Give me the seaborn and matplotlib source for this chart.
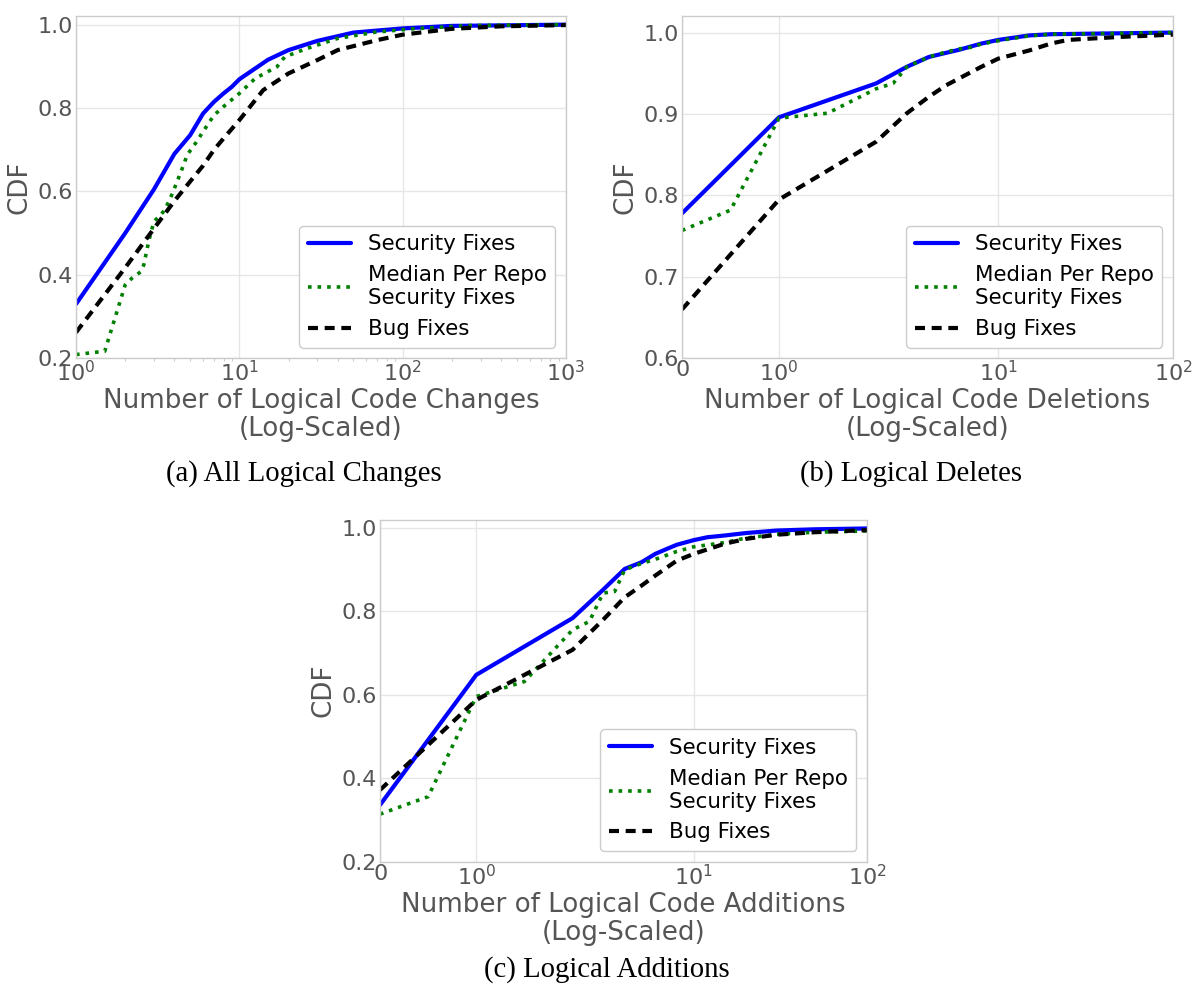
import matplotlib
matplotlib.use("Agg")
import matplotlib.pyplot as plt
import seaborn as sns
from matplotlib.ticker import NullLocator

# (a) all logical changes - CDF values
chg_sec_x = [1, 2, 3, 4, 5, 6, 7, 8, 9, 10, 15, 20, 30, 50, 100, 200, 1000]
chg_sec_y = [0.330, 0.500, 0.605, 0.690, 0.735, 0.787, 0.815, 0.835, 0.851, 0.869,
             0.916, 0.939, 0.961, 0.981, 0.991, 0.997, 1.0]
chg_med_x = [1, 1.5, 2, 2.2, 2.5, 2.6, 2.8, 3, 3.3, 3.5, 3.9, 4.4, 4.8, 5.4, 6.1, 7,
             8.2, 10, 12.5, 17, 19, 26, 40, 68, 116, 258, 1000]
chg_med_y = [0.209, 0.217, 0.376, 0.392, 0.408, 0.424, 0.484, 0.528, 0.544, 0.556,
             0.596, 0.648, 0.688, 0.716, 0.748, 0.783, 0.807, 0.835, 0.871, 0.899,
             0.923, 0.943, 0.967, 0.982, 0.990, 0.998, 1.0]
chg_bug_x = [1, 2, 3, 4, 5, 6, 7, 8, 10, 14, 20, 30, 40, 70, 100, 200, 400, 1000]
chg_bug_y = [0.262, 0.417, 0.511, 0.577, 0.624, 0.662, 0.700, 0.727, 0.771, 0.843,
             0.883, 0.915, 0.939, 0.963, 0.976, 0.990, 0.996, 0.999]

# (b) logical deletes
del_sec_x = [0, 1, 2, 3, 4, 5, 6, 8, 10, 15, 20, 100]
del_sec_y = [0.778, 0.896, 0.9376, 0.958, 0.970, 0.975, 0.979, 0.9865, 0.991,
             0.9965, 0.998, 1.0]
del_med_x = [0, 0.5, 1, 1.5, 2, 2.5, 3, 4, 5, 6, 7, 8, 10, 15, 20, 100]
del_med_y = [0.757, 0.782, 0.895, 0.901, 0.931, 0.9376, 0.958, 0.970, 0.976, 0.980,
             0.982, 0.986, 0.990, 0.996, 0.998, 1.0]
del_bug_x = [0, 1, 2, 3, 4, 5, 6, 8, 10, 15, 20, 25, 50, 100]
del_bug_y = [0.660, 0.795, 0.866, 0.901, 0.921, 0.935, 0.944, 0.958, 0.968, 0.978,
             0.9865, 0.991, 0.9947, 0.9975]

# (c) logical additions
add_sec_x = [0, 1, 2, 3, 4, 5, 6, 7, 8, 10, 12, 15, 20, 30, 50, 100]
add_sec_y = [0.336, 0.648, 0.784, 0.852, 0.902, 0.918, 0.938, 0.950, 0.960, 0.971,
             0.978, 0.982, 0.988, 0.994, 0.997, 0.999]
add_med_x = [0, 0.5, 1, 1.5, 2, 2.5, 3, 3.5, 4, 5, 6, 7, 8, 10, 15, 20, 30, 50, 100]
add_med_y = [0.314, 0.356, 0.596, 0.632, 0.756, 0.776, 0.844, 0.848, 0.900, 0.915,
             0.925, 0.935, 0.944, 0.955, 0.965, 0.976, 0.985, 0.990, 0.993]
add_bug_x = [0, 1, 2, 3, 4, 5, 6, 8, 10, 15, 20, 30, 50, 100]
add_bug_y = [0.372, 0.588, 0.708, 0.780, 0.834, 0.862, 0.886, 0.922, 0.938, 0.962,
             0.974, 0.984, 0.990, 0.995]

captions = ["(a) All Logical Changes", "(b) Logical Deletes", "(c) Logical Additions"]

sns.set_theme(style="whitegrid")
plt.rcParams["font.family"] = ["DejaVu Sans"]

TXT = "#555555"
W, H = 1192, 990


def draw_panel(ax, sec, med, bug, xlabel):
    sns.lineplot(x=sec[0], y=sec[1], ax=ax, color="blue", lw=3,
                 label="Security Fixes")
    sns.lineplot(x=med[0], y=med[1], ax=ax, color="green", lw=2.6, linestyle=":",
                 label="Median Per Repo\nSecurity Fixes")
    sns.lineplot(x=bug[0], y=bug[1], ax=ax, color="black", lw=3,
                 linestyle=(0, (2.4, 1.6)), label="Bug Fixes")
    ax.set_xlabel(xlabel, fontsize=18.8, color=TXT, labelpad=2, linespacing=1.1)
    ax.set_ylabel("CDF", fontsize=18.8, color=TXT, labelpad=3)
    ax.tick_params(axis="both", which="major", length=0, labelsize=16,
                   labelcolor=TXT)
    ax.tick_params(axis="x", pad=1.5)
    ax.tick_params(axis="y", pad=2.5)
    ax.grid(True, which="major", color="#e6e6e6", lw=1)
    for s in ax.spines.values():
        s.set_color("#cccccc")
        s.set_linewidth(1)
    ax.legend(loc="lower right", fontsize=15.4, frameon=True, edgecolor="#cccccc",
              facecolor="white", framealpha=1, labelcolor="black")


fig = plt.figure(figsize=(W / 100, H / 100), dpi=100)
ax_a = fig.add_axes([76 / W, 1 - 358.3 / H, 490 / W, 342 / H])
ax_b = fig.add_axes([682 / W, 1 - 358.3 / H, 491 / W, 342 / H])
ax_c = fig.add_axes([380 / W, 1 - 861.7 / H, 487 / W, 342 / H])

draw_panel(ax_a, (chg_sec_x, chg_sec_y), (chg_med_x, chg_med_y),
           (chg_bug_x, chg_bug_y), "Number of Logical Code Changes\n(Log-Scaled)")
ax_a.set_xscale("log")
ax_a.set_xlim(1, 1000)
ax_a.set_xticks([1, 10, 100, 1000])
ax_a.set_ylim(0.2, 1.02)
ax_a.set_yticks([0.2, 0.4, 0.6, 0.8, 1.0])
ax_a.tick_params(axis="x", which="minor", bottom=True, length=2.5, width=0.8,
                 color="#cccccc", direction="out")

draw_panel(ax_b, (del_sec_x, del_sec_y), (del_med_x, del_med_y),
           (del_bug_x, del_bug_y), "Number of Logical Code Deletions\n(Log-Scaled)")
ax_b.set_ylim(0.6, 1.02)
ax_b.set_yticks([0.6, 0.7, 0.8, 0.9, 1.0])

draw_panel(ax_c, (add_sec_x, add_sec_y), (add_med_x, add_med_y),
           (add_bug_x, add_bug_y), "Number of Logical Code Additions\n(Log-Scaled)")
ax_c.set_ylim(0.2, 1.02)
ax_c.set_yticks([0.2, 0.4, 0.6, 0.8, 1.0])

sym_labels = [r"$\mathdefault{0}$", r"$\mathdefault{10^{0}}$",
              r"$\mathdefault{10^{1}}$", r"$\mathdefault{10^{2}}$"]
for ax in (ax_b, ax_c):
    ax.set_xscale("symlog", linthresh=2)
    ax.set_xlim(0, 100)
    ax.set_xticks([0, 1, 10, 100], sym_labels)
    ax.xaxis.set_minor_locator(NullLocator())

cap_pos = [(304, 474), (911, 474), (607, 970)]
for txt, (cx, cy) in zip(captions, cap_pos):
    fig.text(cx / W, 1 - cy / H, txt, ha="center", va="center", fontsize=20.7,
             family=["Liberation Serif", "DejaVu Serif"], color="black")

fig.savefig("out.png", dpi=100)
